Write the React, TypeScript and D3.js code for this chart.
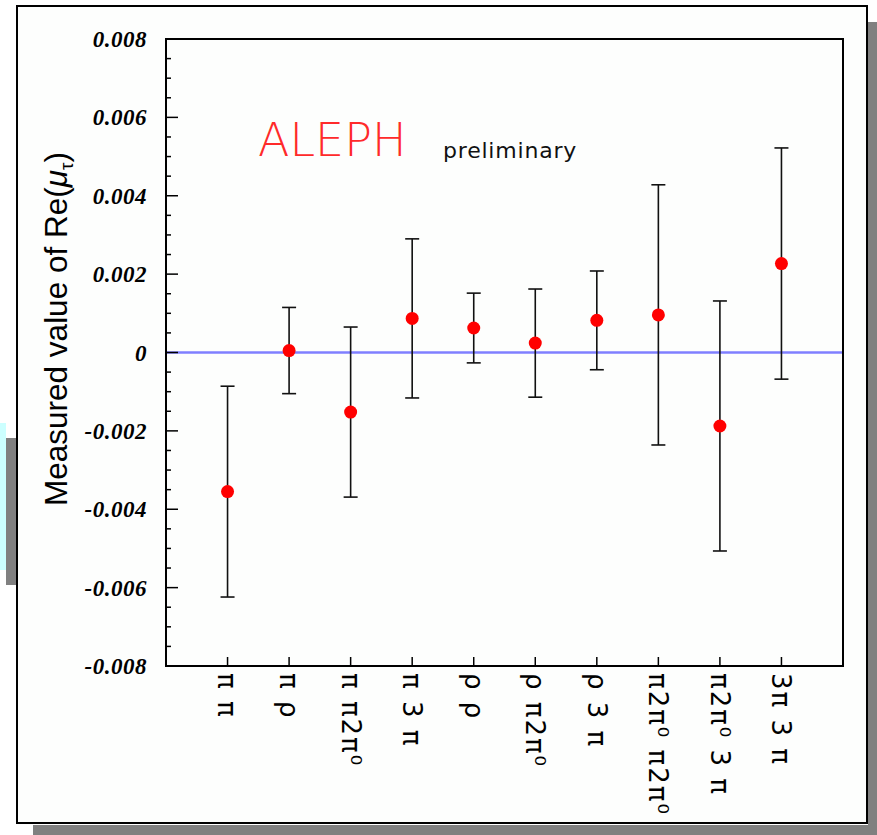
import { range, scaleLinear, select } from "d3";
import { useEffect, useRef } from "react";

const channels = [
  "π π",
  "π ρ",
  "π π2π⁰",
  "π 3 π",
  "ρ ρ",
  "ρ π2π⁰",
  "ρ 3 π",
  "π2π⁰ π2π⁰",
  "π2π⁰ 3 π",
  "3π 3 π",
];
const values = [
  -0.00355, 0.00005, -0.00152, 0.00087, 0.000625, 0.00024, 0.00082, 0.00096,
  -0.001875, 0.00227,
];
const errors = [
  0.00269, 0.0011, 0.00217, 0.00203, 0.00089, 0.00138, 0.00126, 0.00332,
  0.00319, 0.00295,
];
const yTickLabels = [
  "0.008",
  "0.006",
  "0.004",
  "0.002",
  "0",
  "-0.002",
  "-0.004",
  "-0.006",
  "-0.008",
];

const W = 877;
const H = 835;
const plot = { left: 166, right: 843, top: 39, bottom: 666 };

const App = () => {
  const ref = useRef<SVGSVGElement>(null);

  useEffect(() => {
    if (!ref.current) return;
    const svg = select(ref.current);
    svg.selectAll("*").remove();

    // background decorations
    svg.append("rect").attr("x", 6).attr("y", 438).attr("width", 11).attr("height", 147).attr("fill", "#808080");
    svg.append("rect").attr("x", 0).attr("y", 423).attr("width", 6).attr("height", 147).attr("fill", "#ccffff");
    // shadow of frame
    svg.append("rect").attr("x", 868).attr("y", 22).attr("width", 9).attr("height", 813).attr("fill", "#808080");
    svg.append("rect").attr("x", 33).attr("y", 825).attr("width", 844).attr("height", 10).attr("fill", "#808080");
    // outer frame
    svg
      .append("rect")
      .attr("x", 17)
      .attr("y", 6)
      .attr("width", 850)
      .attr("height", 817)
      .attr("fill", "#fdfefd")
      .attr("stroke", "#000")
      .attr("stroke-width", 2);

    const x = scaleLinear().domain([0, channels.length + 1]).range([plot.left, plot.right]);
    const y = scaleLinear().domain([-0.008, 0.008]).range([plot.bottom, plot.top]);

    // zero line
    svg
      .append("line")
      .attr("x1", plot.left)
      .attr("x2", plot.right)
      .attr("y1", y(0))
      .attr("y2", y(0))
      .attr("stroke", "#7f7fff")
      .attr("stroke-width", 2.5);

    // y ticks
    const minor = range(-16, 17).map((k) => k * 0.0005);
    svg
      .append("g")
      .selectAll("line")
      .data(minor)
      .join("line")
      .attr("x1", plot.left)
      .attr("x2", (d, i) => plot.left + (i % 4 === 0 ? 12 : 5))
      .attr("y1", (d) => y(d))
      .attr("y2", (d) => y(d))
      .attr("stroke", "#000")
      .attr("stroke-width", 1.5);

    svg
      .append("g")
      .selectAll("text")
      .data(yTickLabels)
      .join("text")
      .attr("x", 147)
      .attr("y", (d) => y(+d))
      .attr("dy", "0.35em")
      .attr("text-anchor", "end")
      .attr("font-family", "'Liberation Serif', serif")
      .attr("font-weight", "bold")
      .attr("font-style", "italic")
      .attr("font-size", 23)
      .attr("letter-spacing", 0.5)
      .text((d) => d);

    // x ticks
    svg
      .append("g")
      .selectAll("line")
      .data(channels)
      .join("line")
      .attr("x1", (d, i) => x(i + 1))
      .attr("x2", (d, i) => x(i + 1))
      .attr("y1", plot.bottom)
      .attr("y2", plot.bottom - 9)
      .attr("stroke", "#000")
      .attr("stroke-width", 1.5);

    svg
      .append("g")
      .selectAll("text")
      .data(channels)
      .join("text")
      .attr("transform", (d, i) => `translate(${x(i + 1)},${plot.bottom + 7}) rotate(90)`)
      .attr("dy", "0.35em")
      .attr("font-family", "'DejaVu Sans', sans-serif")
      .attr("font-size", 26)
      .attr("letter-spacing", 2)
      .text((d) => d);

    // plot frame
    svg
      .append("rect")
      .attr("x", plot.left)
      .attr("y", plot.top)
      .attr("width", plot.right - plot.left)
      .attr("height", plot.bottom - plot.top)
      .attr("fill", "none")
      .attr("stroke", "#000")
      .attr("stroke-width", 2);

    // error bars
    const bars = svg.append("g").attr("stroke", "#111").attr("stroke-width", 1.6);
    values.forEach((v, i) => {
      const cx = x(i + 1);
      const top = y(v + errors[i]);
      const bot = y(v - errors[i]);
      bars.append("line").attr("x1", cx).attr("x2", cx).attr("y1", top).attr("y2", bot);
      bars.append("line").attr("x1", cx - 7).attr("x2", cx + 7).attr("y1", top).attr("y2", top);
      bars.append("line").attr("x1", cx - 7).attr("x2", cx + 7).attr("y1", bot).attr("y2", bot);
    });

    svg
      .append("g")
      .selectAll("circle")
      .data(values)
      .join("circle")
      .attr("cx", (d, i) => x(i + 1))
      .attr("cy", (d) => y(d))
      .attr("r", 6.5)
      .attr("fill", "#ff0000");

    // y label
    const yl = svg
      .append("text")
      .attr("transform", `translate(67,329) rotate(-90)`)
      .attr("text-anchor", "middle")
      .attr("font-family", "'Liberation Sans', sans-serif")
      .attr("font-size", 31.5);
    yl.append("tspan").text("Measured value of Re(");
    yl.append("tspan").attr("font-style", "italic").text("μ");
    yl.append("tspan").attr("font-size", 19).attr("dy", 6).text("τ");
    yl.append("tspan").attr("dy", -6).text(")");

    // annotations
    svg
      .append("text")
      .attr("x", 258)
      .attr("y", 156)
      .attr("font-family", "'DejaVu Sans', sans-serif")
      .attr("font-weight", 200)
      .attr("font-size", 46)
      .attr("fill", "#ff2a2a")
      .text("ALEPH");
    svg
      .append("text")
      .attr("x", 443)
      .attr("y", 158)
      .attr("font-family", "'DejaVu Sans', sans-serif")
      .attr("font-size", 22)
      .attr("letter-spacing", 0.8)
      .attr("fill", "#111")
      .text("preliminary");
  }, []);

  return (
    <div style={{ position: "fixed", left: 0, top: 0 }}>
      <svg ref={ref} width={W} height={H} />
    </div>
  );
};

export default App;
